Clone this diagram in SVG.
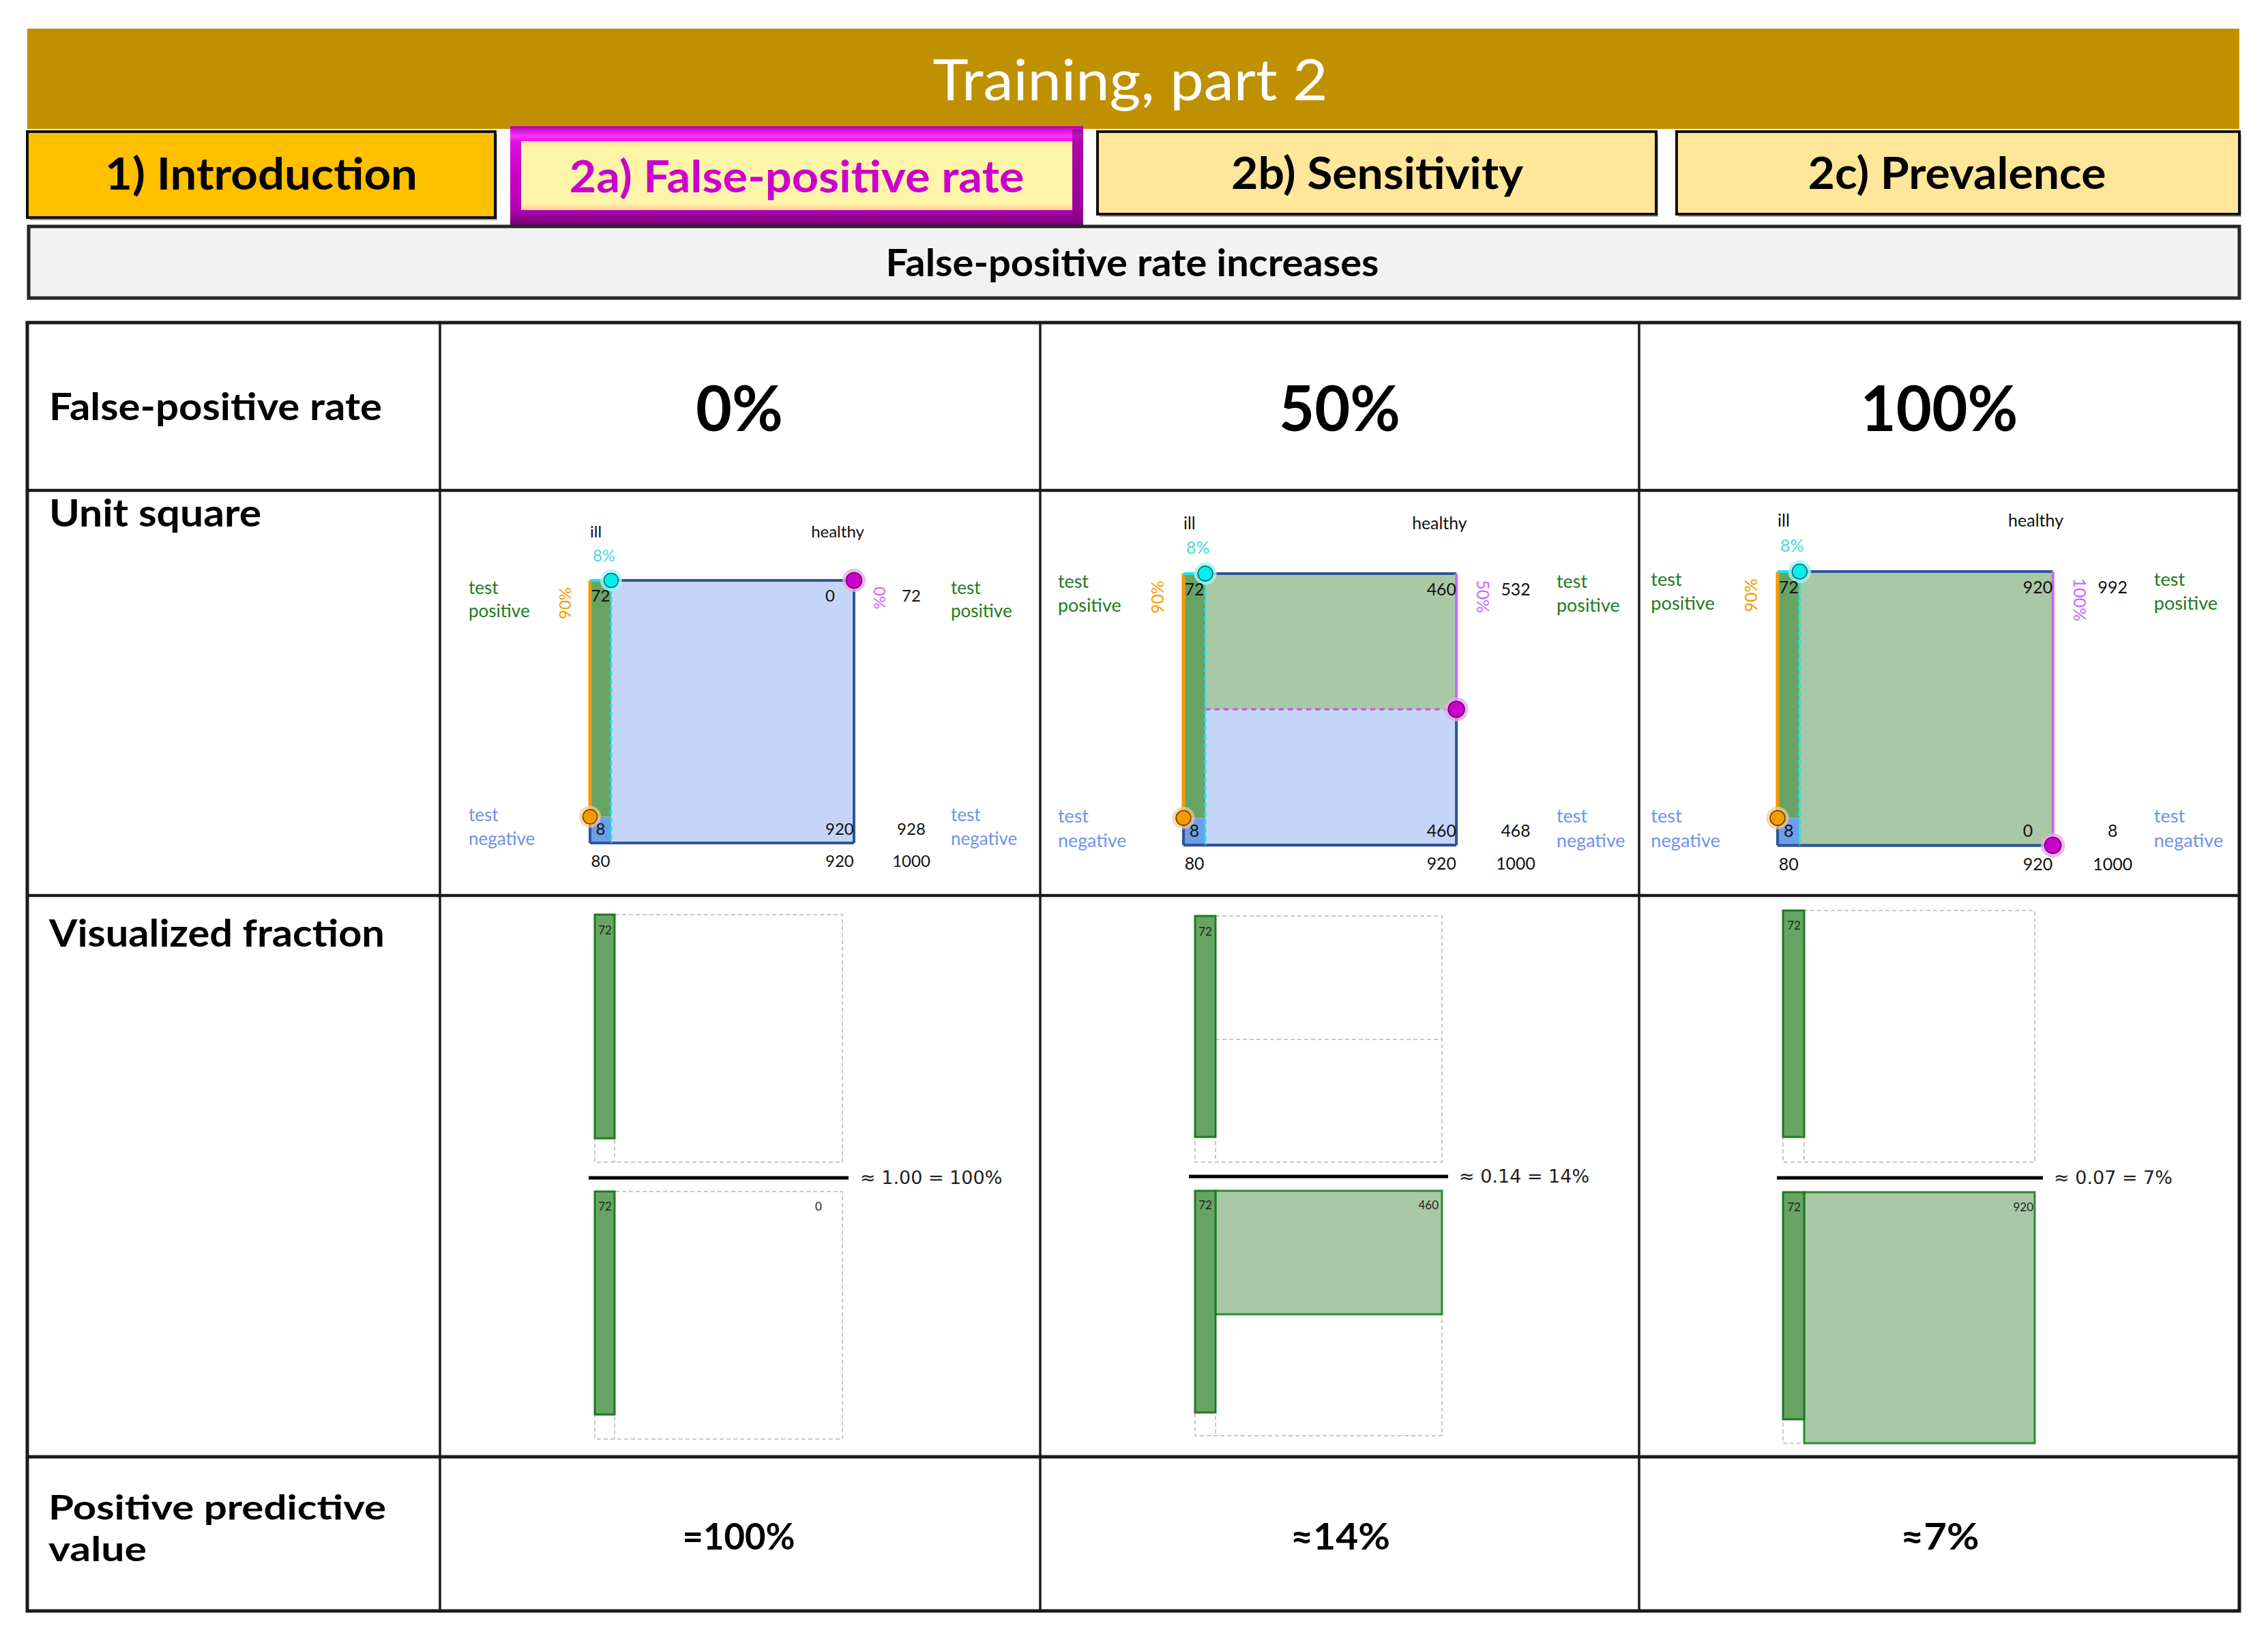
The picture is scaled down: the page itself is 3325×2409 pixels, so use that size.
<svg xmlns="http://www.w3.org/2000/svg" width="3325" height="2409" viewBox="0 0 3325 2409">
<defs>
<style>
.bold{font-family:Lato,"DejaVu Sans",sans-serif;font-weight:700;fill:#000}
.reg{font-family:Lato,"DejaVu Sans",sans-serif;font-weight:400}
.sm{font-family:Lato,"DejaVu Sans",sans-serif;font-size:24px;fill:#111}
.tp{font-family:Lato,sans-serif;font-size:26px;fill:#237a23}
.tn{font-family:Lato,sans-serif;font-size:26px;fill:#6f93ea}
.pct{font-family:Lato,sans-serif;font-size:24px}
.math{font-family:"DejaVu Sans",sans-serif;font-size:27px;fill:#222}
.fl{font-family:Lato,sans-serif;font-size:17px;fill:#222}
.sqb{stroke:#2f5597;stroke-width:4;fill:none}
.org{stroke:#f59a00;stroke-width:5}
.cyd{stroke:#1ee6ee;stroke-width:3;stroke-dasharray:8 4}
.vio{stroke:#cc66ff;stroke-width:4}
.grid{stroke:#1a1a1a;fill:none}
.dash{stroke:#c8c8c8;stroke-width:2;stroke-dasharray:6 4;fill:none}
.bar{fill:#67a464;stroke:#1e7b1e;stroke-width:3}
.lg{fill:#a9c9a6}
.lb{fill:#c5d5f8}
</style>
<linearGradient id="mag" x1="0" y1="0" x2="0" y2="1">
<stop offset="0" stop-color="#b000b0"/>
<stop offset="0.1" stop-color="#ff33ff"/>
<stop offset="0.16" stop-color="#e010e0"/>
<stop offset="0.5" stop-color="#c800c8"/>
<stop offset="0.86" stop-color="#b000b0"/>
<stop offset="1" stop-color="#700070"/>
</linearGradient>
<linearGradient id="yel" x1="0" y1="0" x2="0" y2="1">
<stop offset="0" stop-color="#ffd9a0"/>
<stop offset="0.1" stop-color="#fff5a8"/>
<stop offset="0.9" stop-color="#fff5a8"/>
<stop offset="1" stop-color="#ffd0a0"/>
</linearGradient>
</defs>
<rect x="0" y="0" width="3325" height="2409" fill="#ffffff"/>

<g id="title">
<rect x="40" y="42" width="3243" height="147" fill="#bf9000"/>
<text x="1657" y="147" class="reg" font-size="84" fill="#ffffff" text-anchor="middle" textLength="579" lengthAdjust="spacingAndGlyphs">Training, part 2</text>
</g>

<g id="tab-intro">
<rect x="43" y="197" width="686" height="126" fill="#a6a6a6"/>
<rect x="40" y="193" width="686" height="126" fill="#ffc000" stroke="#111" stroke-width="4"/>
<text x="383" y="278" class="bold" font-size="65" text-anchor="middle" textLength="458" lengthAdjust="spacingAndGlyphs">1) Introduction</text>
</g>

<g id="tab-fpr">
<rect x="748" y="185" width="840" height="145" fill="url(#mag)"/>
<rect x="1572" y="190" width="16" height="136" fill="#8a008a" opacity="0.6"/>
<rect x="764" y="207" width="808" height="101" fill="url(#yel)"/>
<text x="1168" y="282" class="bold" font-size="65" style="fill:#cc00cc" text-anchor="middle" textLength="667" lengthAdjust="spacingAndGlyphs">2a) False-positive rate</text>
</g>

<g id="tab-sens">
<rect x="1612" y="197" width="819" height="121" fill="#a6a6a6"/>
<rect x="1609" y="193" width="819" height="121" fill="#ffe699" stroke="#111" stroke-width="4"/>
<text x="2019" y="277" class="bold" font-size="65" text-anchor="middle" textLength="428" lengthAdjust="spacingAndGlyphs">2b) Sensitivity</text>
</g>

<g id="tab-prev">
<rect x="2461" y="197" width="825" height="121" fill="#a6a6a6"/>
<rect x="2458" y="193" width="825" height="121" fill="#ffe699" stroke="#111" stroke-width="4"/>
<text x="2869" y="277" class="bold" font-size="65" text-anchor="middle" textLength="437" lengthAdjust="spacingAndGlyphs">2c) Prevalence</text>
</g>

<g id="subheader">
<rect x="42" y="332" width="3241" height="105" fill="#f2f2f2" stroke="#262626" stroke-width="5"/>
<text x="1660" y="405" class="bold" font-size="55" text-anchor="middle" textLength="723" lengthAdjust="spacingAndGlyphs">False-positive rate increases</text>
</g>

<g id="table">
<rect x="40" y="473" width="3243" height="1889" fill="#ffffff" class="grid" stroke-width="5"/>
<line x1="645" y1="473" x2="645" y2="2362" class="grid" stroke-width="3.5"/>
<line x1="1525" y1="473" x2="1525" y2="2362" class="grid" stroke-width="3.5"/>
<line x1="2403" y1="473" x2="2403" y2="2362" class="grid" stroke-width="3.5"/>
<line x1="40" y1="719" x2="3283" y2="719" class="grid" stroke-width="4.5"/>
<line x1="40" y1="1313" x2="3283" y2="1313" class="grid" stroke-width="4.5"/>
<line x1="40" y1="2136" x2="3283" y2="2136" class="grid" stroke-width="5"/>
</g>

<g id="row-labels">
<text x="72" y="616" class="bold" font-size="56" textLength="488" lengthAdjust="spacingAndGlyphs">False-positive rate</text>
<text x="72" y="772" class="bold" font-size="56" textLength="311" lengthAdjust="spacingAndGlyphs">Unit square</text>
<text x="72" y="1388" class="bold" font-size="56" textLength="492" lengthAdjust="spacingAndGlyphs">Visualized fraction</text>
<text x="71" y="2228" class="bold" font-size="50" textLength="495" lengthAdjust="spacingAndGlyphs">Positive predictive</text>
<text x="71" y="2289" class="bold" font-size="50" textLength="144" lengthAdjust="spacingAndGlyphs">value</text>
</g>

<g id="col-headers">
<text x="1084" y="632" class="bold" font-size="92" text-anchor="middle" textLength="128" lengthAdjust="spacingAndGlyphs">0%</text>
<text x="1964" y="632" class="bold" font-size="92" text-anchor="middle" textLength="178" lengthAdjust="spacingAndGlyphs">50%</text>
<text x="2843" y="632" class="bold" font-size="92" text-anchor="middle" textLength="231" lengthAdjust="spacingAndGlyphs">100%</text>
</g>

<!-- Unit square 0% -->
<g id="unit-square-0" transform="translate(865,851)">
<rect x="31" y="0" width="356" height="385" class="lb"/>
<rect x="0" y="0" width="31" height="346.5" fill="#67a464"/>
<rect x="0" y="346.5" width="31" height="38.5" fill="#6d9eeb"/>
<line x1="31" y1="0" x2="387" y2="0" class="sqb"/>
<line x1="0" y1="385" x2="387" y2="385" class="sqb"/>
<line x1="0" y1="346.5" x2="0" y2="385" class="sqb"/>
<line x1="387" y1="0" x2="387" y2="385" class="sqb"/>
<line x1="0" y1="0" x2="0" y2="346.5" class="org"/>
<line x1="0" y1="0" x2="31" y2="0" stroke="#1ee6ee" stroke-width="4"/>
<line x1="31" y1="0" x2="31" y2="385" class="cyd"/>
<circle cx="0" cy="346.5" r="16" fill="#f8c98a" opacity="0.7"/>
<circle cx="0" cy="346.5" r="10.5" fill="#f59a00" stroke="#6a4000" stroke-width="1.5"/>
<circle cx="31" cy="0" r="16" fill="#9ff6f6" opacity="0.8"/>
<circle cx="31" cy="0" r="10.5" fill="#00f0f0" stroke="#0a6a6a" stroke-width="1.5"/>
<circle cx="387" cy="0" r="17" fill="#e8a8e8" opacity="0.8"/>
<circle cx="387" cy="0" r="11.5" fill="#cc00cc" stroke="#600060" stroke-width="1.5"/>
<text x="0" y="-63" class="sm">ill</text>
<text x="363" y="-63" class="sm" text-anchor="middle">healthy</text>
<text x="20.5" y="-28" class="pct" fill="#4fd6d6" text-anchor="middle">8%</text>
<text x="-178" y="20" class="tp">test</text>
<text x="-178" y="54" class="tp">positive</text>
<text x="-178" y="353" class="tn">test</text>
<text x="-178" y="387.5" class="tn">negative</text>
<text x="529" y="20" class="tp">test</text>
<text x="529" y="54" class="tp">positive</text>
<text x="529" y="353" class="tn">test</text>
<text x="529" y="387.5" class="tn">negative</text>
<text transform="translate(-28.5,57) rotate(-90)" class="pct" fill="#f59a00">90%</text>
<text transform="translate(416,9) rotate(90)" class="pct" fill="#cc66ff">0%</text>
<text x="15.5" y="30.5" class="sm" text-anchor="middle">72</text>
<text x="345" y="30.5" class="sm">0</text>
<text x="471" y="30.5" class="sm" text-anchor="middle">72</text>
<text x="15.5" y="373" class="sm" text-anchor="middle">8</text>
<text x="345" y="373" class="sm">920</text>
<text x="471" y="373" class="sm" text-anchor="middle">928</text>
<text x="15.5" y="420" class="sm" text-anchor="middle">80</text>
<text x="345" y="420" class="sm">920</text>
<text x="471" y="420" class="sm" text-anchor="middle">1000</text>
</g>

<!-- Unit square 50% -->
<g id="unit-square-50" transform="translate(1735,841) scale(1.034)">
<rect x="31" y="0" width="356" height="192.5" class="lg"/>
<rect x="31" y="192.5" width="356" height="192.5" class="lb"/>
<rect x="0" y="0" width="31" height="346.5" fill="#67a464"/>
<rect x="0" y="346.5" width="31" height="38.5" fill="#6d9eeb"/>
<line x1="31" y1="0" x2="387" y2="0" class="sqb"/>
<line x1="0" y1="385" x2="387" y2="385" class="sqb"/>
<line x1="0" y1="346.5" x2="0" y2="385" class="sqb"/>
<line x1="387" y1="192.5" x2="387" y2="385" class="sqb"/>
<line x1="387" y1="0" x2="387" y2="192.5" class="vio"/>
<line x1="31" y1="192.5" x2="387" y2="192.5" stroke="#d24bf0" stroke-width="3" stroke-dasharray="7 6"/>
<line x1="0" y1="0" x2="0" y2="346.5" class="org"/>
<line x1="0" y1="0" x2="31" y2="0" stroke="#1ee6ee" stroke-width="4"/>
<line x1="31" y1="0" x2="31" y2="385" class="cyd"/>
<circle cx="0" cy="346.5" r="16" fill="#f8c98a" opacity="0.7"/>
<circle cx="0" cy="346.5" r="10.5" fill="#f59a00" stroke="#6a4000" stroke-width="1.5"/>
<circle cx="31" cy="0" r="16" fill="#9ff6f6" opacity="0.8"/>
<circle cx="31" cy="0" r="10.5" fill="#00f0f0" stroke="#0a6a6a" stroke-width="1.5"/>
<circle cx="387" cy="192.5" r="17" fill="#e8a8e8" opacity="0.8"/>
<circle cx="387" cy="192.5" r="11.5" fill="#cc00cc" stroke="#600060" stroke-width="1.5"/>
<text x="0" y="-63" class="sm">ill</text>
<text x="363" y="-63" class="sm" text-anchor="middle">healthy</text>
<text x="20.5" y="-28" class="pct" fill="#4fd6d6" text-anchor="middle">8%</text>
<text x="-178" y="20" class="tp">test</text>
<text x="-178" y="54" class="tp">positive</text>
<text x="-178" y="353" class="tn">test</text>
<text x="-178" y="387.5" class="tn">negative</text>
<text x="529" y="20" class="tp">test</text>
<text x="529" y="54" class="tp">positive</text>
<text x="529" y="353" class="tn">test</text>
<text x="529" y="387.5" class="tn">negative</text>
<text transform="translate(-28.5,57) rotate(-90)" class="pct" fill="#f59a00">90%</text>
<text transform="translate(416,9) rotate(90)" class="pct" fill="#cc66ff">50%</text>
<text x="15.5" y="30.5" class="sm" text-anchor="middle">72</text>
<text x="345" y="30.5" class="sm">460</text>
<text x="471" y="30.5" class="sm" text-anchor="middle">532</text>
<text x="15.5" y="373" class="sm" text-anchor="middle">8</text>
<text x="345" y="373" class="sm">460</text>
<text x="471" y="373" class="sm" text-anchor="middle">468</text>
<text x="15.5" y="420" class="sm" text-anchor="middle">80</text>
<text x="345" y="420" class="sm">920</text>
<text x="471" y="420" class="sm" text-anchor="middle">1000</text>
</g>

<!-- Unit square 100% -->
<g id="unit-square-100" transform="translate(2606,838) scale(1.043)">
<rect x="31" y="0" width="356" height="385" class="lg"/>
<rect x="0" y="0" width="31" height="346.5" fill="#67a464"/>
<rect x="0" y="346.5" width="31" height="38.5" fill="#6d9eeb"/>
<line x1="31" y1="0" x2="387" y2="0" class="sqb"/>
<line x1="0" y1="385" x2="387" y2="385" class="sqb"/>
<line x1="0" y1="346.5" x2="0" y2="385" class="sqb"/>
<line x1="387" y1="0" x2="387" y2="385" class="vio"/>
<line x1="0" y1="0" x2="0" y2="346.5" class="org"/>
<line x1="0" y1="0" x2="31" y2="0" stroke="#1ee6ee" stroke-width="4"/>
<line x1="31" y1="0" x2="31" y2="385" class="cyd"/>
<circle cx="0" cy="346.5" r="16" fill="#f8c98a" opacity="0.7"/>
<circle cx="0" cy="346.5" r="10.5" fill="#f59a00" stroke="#6a4000" stroke-width="1.5"/>
<circle cx="31" cy="0" r="16" fill="#9ff6f6" opacity="0.8"/>
<circle cx="31" cy="0" r="10.5" fill="#00f0f0" stroke="#0a6a6a" stroke-width="1.5"/>
<circle cx="387" cy="385" r="17" fill="#e8a8e8" opacity="0.8"/>
<circle cx="387" cy="385" r="11.5" fill="#cc00cc" stroke="#600060" stroke-width="1.5"/>
<text x="0" y="-63" class="sm">ill</text>
<text x="363" y="-63" class="sm" text-anchor="middle">healthy</text>
<text x="20.5" y="-28" class="pct" fill="#4fd6d6" text-anchor="middle">8%</text>
<text x="-178" y="20" class="tp">test</text>
<text x="-178" y="54" class="tp">positive</text>
<text x="-178" y="353" class="tn">test</text>
<text x="-178" y="387.5" class="tn">negative</text>
<text x="529" y="20" class="tp">test</text>
<text x="529" y="54" class="tp">positive</text>
<text x="529" y="353" class="tn">test</text>
<text x="529" y="387.5" class="tn">negative</text>
<text transform="translate(-28.5,57) rotate(-90)" class="pct" fill="#f59a00">90%</text>
<text transform="translate(416,9) rotate(90)" class="pct" fill="#cc66ff">100%</text>
<text x="15.5" y="30.5" class="sm" text-anchor="middle">72</text>
<text x="345" y="30.5" class="sm">920</text>
<text x="471" y="30.5" class="sm" text-anchor="middle">992</text>
<text x="15.5" y="373" class="sm" text-anchor="middle">8</text>
<text x="345" y="373" class="sm">0</text>
<text x="471" y="373" class="sm" text-anchor="middle">8</text>
<text x="15.5" y="420" class="sm" text-anchor="middle">80</text>
<text x="345" y="420" class="sm">920</text>
<text x="471" y="420" class="sm" text-anchor="middle">1000</text>
</g>

<!-- Visualized fraction 0% -->
<g id="fraction-0">
<rect x="872" y="1341" width="363" height="363" class="dash"/>
<line x1="901" y1="1341" x2="901" y2="1704" class="dash"/>
<rect x="872" y="1341" width="29" height="328" class="bar"/>
<text x="887" y="1370" class="fl" text-anchor="middle">72</text>
<line x1="863" y1="1727" x2="1244" y2="1727" stroke="#000" stroke-width="5"/>
<text x="1261" y="1736" class="math">≈ 1.00 = 100%</text>
<rect x="872" y="1747" width="363" height="363" class="dash"/>
<line x1="901" y1="1747" x2="901" y2="2110" class="dash"/>
<rect x="872" y="1747" width="29" height="327" class="bar"/>
<text x="887" y="1775" class="fl" text-anchor="middle">72</text>
<text x="1200" y="1775" class="fl" text-anchor="middle">0</text>
</g>

<!-- Visualized fraction 50% -->
<g id="fraction-50">
<rect x="1752" y="1343" width="362" height="361" class="dash"/>
<line x1="1782" y1="1343" x2="1782" y2="1704" class="dash"/>
<line x1="1782" y1="1524" x2="2114" y2="1524" class="dash"/>
<rect x="1752" y="1343" width="30" height="324" class="bar"/>
<text x="1767" y="1372" class="fl" text-anchor="middle">72</text>
<line x1="1743" y1="1725" x2="2123" y2="1725" stroke="#000" stroke-width="5"/>
<text x="2139" y="1734" class="math">≈ 0.14 = 14%</text>
<rect x="1752" y="1746" width="362" height="359" class="dash"/>
<line x1="1782" y1="1746" x2="1782" y2="2105" class="dash"/>
<rect x="1782" y="1746" width="332" height="181" fill="#a9c9a6" stroke="#2e8b2e" stroke-width="3"/>
<rect x="1752" y="1746" width="30" height="325" class="bar"/>
<text x="1767" y="1773" class="fl" text-anchor="middle">72</text>
<text x="2109" y="1773" class="fl" text-anchor="end">460</text>
</g>

<!-- Visualized fraction 100% -->
<g id="fraction-100">
<rect x="2614" y="1335" width="369" height="369" class="dash"/>
<line x1="2645" y1="1335" x2="2645" y2="1704" class="dash"/>
<rect x="2614" y="1335" width="31" height="332" class="bar"/>
<text x="2630" y="1363" class="fl" text-anchor="middle">72</text>
<line x1="2605" y1="1727" x2="2995" y2="1727" stroke="#000" stroke-width="5"/>
<text x="3011" y="1736" class="math">≈ 0.07 = 7%</text>
<rect x="2614" y="1748" width="369" height="368" class="dash"/>
<rect x="2645" y="1748" width="338" height="368" fill="#a9c9a6" stroke="#2e8b2e" stroke-width="3"/>
<rect x="2614" y="1748" width="31" height="333" class="bar"/>
<text x="2630" y="1776" class="fl" text-anchor="middle">72</text>
<text x="2981" y="1776" class="fl" text-anchor="end">920</text>
</g>

<g id="ppv-values">
<text x="1083" y="2272" class="bold" font-size="54" text-anchor="middle" textLength="165" lengthAdjust="spacingAndGlyphs">=100%</text>
<text x="1965" y="2272" class="bold" font-size="54" text-anchor="middle" textLength="146" lengthAdjust="spacingAndGlyphs">≈14%</text>
<text x="2844" y="2272" class="bold" font-size="54" text-anchor="middle" textLength="115" lengthAdjust="spacingAndGlyphs">≈7%</text>
</g>
</svg>
